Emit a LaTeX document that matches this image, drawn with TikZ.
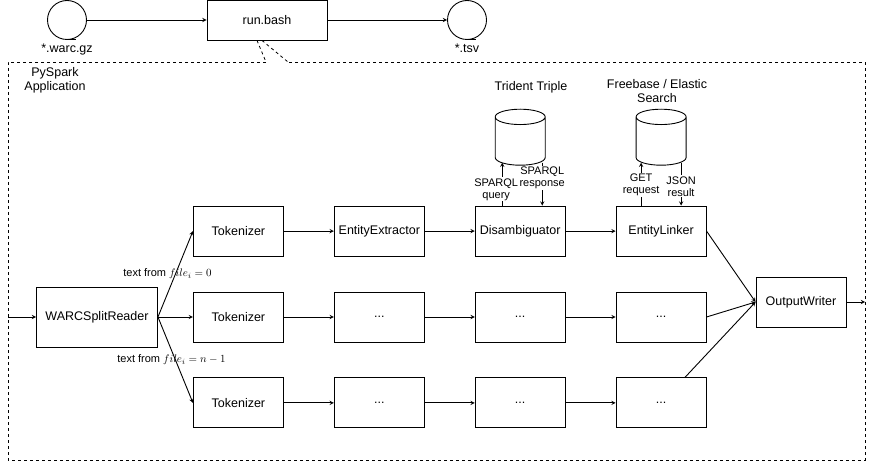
\documentclass[tikz,border=0pt]{standalone}
\usepackage{fontspec}
\setmainfont{Liberation Sans}
\usetikzlibrary{positioning,shapes.geometric}

\begin{document}
\begin{tikzpicture}[%
    x=1pt,y=-1pt,->,>=stealth,line width=0.9pt,node distance=50pt,
    font=\fontsize{12.5}{14}\selectfont,
    stage/.style={%
      rectangle,minimum width=90pt,minimum height=50pt,inner sep=0pt,draw},
    store/.style={%
      -,cylinder,shape border rotate=90,aspect=0.32,minimum width=50pt,
      minimum height=56pt,inner xsep=24pt,inner ysep=12pt,draw},
    datafile/.style={-,circle,minimum size=39pt,inner sep=0pt,draw},
    msg/.style={font=\fontsize{11}{12}\selectfont,align=center,fill=white,
      inner sep=1pt},
    lbl/.style={font=\fontsize{11}{12}\selectfont,inner sep=1pt},
    frame/.style={-,dashed,line width=0.8pt}
  ]
    \useasboundingbox (0,0) rectangle (877,462);

    % shell script
    \node[datafile,label={below:*.warc.gz}] (gz)  at (67,20)  {};
    \node[stage,minimum width=120pt,minimum height=40pt] (run) at (267,20) {run.bash};
    \node[datafile,label={below:*.tsv}]     (tsv) at (467,20) {};
    \draw[-] (gz.south) -- ++(9,0);
    \draw[-] (tsv.south) -- ++(9,0);
    \path (gz)  edge (run)
          (run) edge (tsv);

    % spark application frame
    \coordinate (gapl) at (266,62);
    \coordinate (gapr) at (288,62);
    \draw[frame] (gapl) -- (8,62) -- (8,460) -- (865,460) -- (865,62) -- (gapr);
    \draw[frame] ([xshift=-10pt]run.south) -- (gapl);
    \draw[frame] ([xshift=-5pt]run.south) -- (gapr);
    \node[align=center] (appname) at (55,80) {PySpark\\Application};
    \coordinate (feed) at (8,317);
    \coordinate (sink) at (865,302);

    % pipelines
    \node[stage,minimum width=121pt,minimum height=60pt] (reader) at (97,317) {WARCSplitReader};
    \node[stage] (tok2) [node distance=35pt, right=of reader] {Tokenizer};
    \node[stage] (tok1) [node distance=35pt, above=of tok2]   {Tokenizer};
    \node[stage] (tok3) [node distance=35pt, below=of tok2]   {Tokenizer};
    \node[stage] (ext1) [right=of tok1] {EntityExtractor};
    \node[stage] (dis1) [right=of ext1] {Disambiguator};
    \node[stage] (lnk1) [right=of dis1] {EntityLinker};
    \node[stage] (ext2) [right=of tok2] {...};
    \node[stage] (dis2) [right=of ext2] {...};
    \node[stage] (lnk2) [right=of dis2] {...};
    \node[stage] (ext3) [right=of tok3] {...};
    \node[stage] (dis3) [right=of ext3] {...};
    \node[stage] (lnk3) [right=of dis3] {...};
    \node[stage] (out) at (801,302) {OutputWriter};

    % knowledge bases
    \node[store] (trident) [node distance=40pt, above=of dis1] {};
    \node[store] (fb)      [node distance=40pt, above=of lnk1] {};
    \node (tridentname) at (531,87) {Trident Triple};
    \node[align=center] (fbname) at (657,91) {Freebase / Elastic\\Search};

    \path ([xshift=-18pt]dis1.north) edge node[msg,pos=0.38,xshift=-6pt] {SPARQL\\query}
            ([xshift=-18pt,yshift=3pt]trident.south)
          ([xshift=22pt,yshift=3pt]trident.south) edge node[msg,pos=0.36] {SPARQL\\response}
            ([xshift=22pt]dis1.north)
          ([xshift=-20pt]lnk1.north) edge node[msg,pos=0.48] {GET\\request}
            ([xshift=-20pt,yshift=3pt]fb.south)
          ([xshift=20pt,yshift=3pt]fb.south) edge node[msg,pos=0.55] {JSON\\result}
            ([xshift=20pt]lnk1.north);

    \path (feed) edge (reader)
          (reader.east) edge node[lbl,xshift=-8pt] {text from $file_i = 0$} (tok1.west)
          (reader) edge (tok2)
          (reader.east) edge node[lbl,xshift=-4pt] {text from $file_i = n-1$} (tok3.west)
          (tok1) edge (ext1)  (ext1) edge (dis1)  (dis1) edge (lnk1)
          (tok2) edge (ext2)  (ext2) edge (dis2)  (dis2) edge (lnk2)
          (tok3) edge (ext3)  (ext3) edge (dis3)  (dis3) edge (lnk3)
          (lnk1.east) edge (out.west)
          (lnk2.east) edge (out.west)
          (lnk3) edge (out.west)
          (out) edge (sink);
\end{tikzpicture}
\end{document}
